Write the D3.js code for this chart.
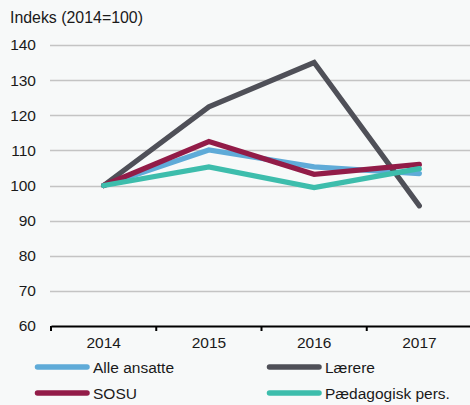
<!DOCTYPE html>
<html><head><meta charset="utf-8">
<script src="https://cdn.jsdelivr.net/npm/d3@7"></script>
<style>
html,body{margin:0;padding:0;background:#f7f9f9;}
svg{display:block;}
text{font-family:"Liberation Sans",Arial,Helvetica,sans-serif;fill:#1a1a1a;}
</style></head>
<body>
<script>
const years = ["2014","2015","2016","2017"];
const alleAnsatte = [100, 110.1, 105.3, 103.4];
const laerere = [100, 122.4, 135, 94.2];
const sosu = [100, 112.5, 103.2, 106];
const paedagogisk = [100, 105.3, 99.4, 104.8];
const yTicks = [60,70,80,90,100,110,120,130,140];
const seriesNames = ["Alle ansatte","Lærere","SOSU","Pædagogisk pers."];
const seriesColors = ["#5fabd8","#4f5058","#921c48","#3dbdac"];
const seriesValues = [alleAnsatte, laerere, sosu, paedagogisk];

const W=470,H=405;
const svg=d3.select("body").append("svg").attr("width",W).attr("height",H);
svg.append("rect").attr("width",W).attr("height",H).attr("fill","#f7f9f9");

const x=d3.scaleBand().domain(years).range([51,472]);
const y=d3.scaleLinear().domain([60,140]).range([326,45]);

// gridlines
svg.append("g").selectAll("line").data(yTicks.filter(t=>t>60)).join("line")
  .attr("x1",50).attr("x2",W)
  .attr("y1",d=>Math.round(y(d))+0.5).attr("y2",d=>Math.round(y(d))+0.5)
  .attr("stroke","#c4c4c4").attr("stroke-width",1.3);

// y labels
svg.append("g").selectAll("text").data(yTicks).join("text")
  .attr("x",36).attr("y",d=>y(d)).attr("dy","0.35em")
  .attr("text-anchor","end").style("font-size","15.5px").text(d=>d);

// x axis
const xAxis=d3.axisBottom(x).tickSizeInner(0).tickSizeOuter(0);
const gx=svg.append("g").attr("transform","translate(0,326)").call(xAxis);
gx.select(".domain").attr("stroke","#000").attr("stroke-width",2.2);
gx.selectAll(".tick text").attr("y",11).style("font-size","15.5px")
  .style("font-family",'"Liberation Sans",Arial,sans-serif').attr("fill","#1a1a1a");
// band boundary ticks
gx.selectAll("line.bt").data(years).join("line").attr("class","bt")
  .attr("x1",d=>x(d)).attr("x2",d=>x(d)).attr("y1",0).attr("y2",5)
  .attr("stroke","#000").attr("stroke-width",2);

// title
svg.append("text").attr("x",10).attr("y",23).style("font-size","15.9px").text("Indeks (2014=100)");

// lines
const line=d3.line().x((d,i)=>x(years[i])+x.bandwidth()/2).y(d=>y(d));
svg.append("g").selectAll("path").data(seriesValues).join("path")
  .attr("d",d=>line(d)).attr("fill","none")
  .attr("stroke",(d,i)=>seriesColors[i]).attr("stroke-width",5.2)
  .attr("stroke-linecap","round").attr("stroke-linejoin","miter");

// legend
const legPos=[[35,367],[267,367],[35,393],[267,393]];
const lg=svg.append("g");
seriesNames.forEach((n,i)=>{
  const [lx,ly]=legPos[i];
  lg.append("line").attr("x1",lx+2.5).attr("x2",lx+52).attr("y1",ly).attr("y2",ly)
    .attr("stroke",seriesColors[i]).attr("stroke-width",5.5).attr("stroke-linecap","round");
  lg.append("text").attr("x",lx+58).attr("y",ly).attr("dy","0.36em")
    .style("font-size","15.5px").text(n);
});
</script>
</body></html>
